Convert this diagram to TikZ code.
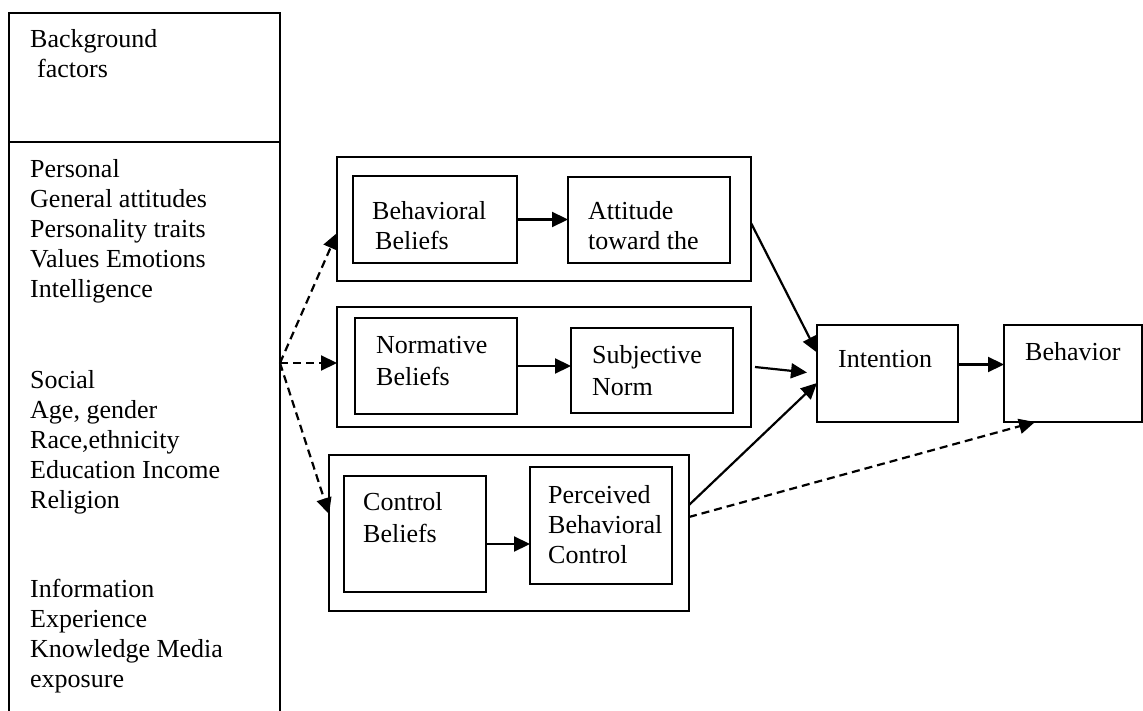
\documentclass[tikz,border=0pt]{standalone}
\usepackage{fontspec}
\setmainfont{Liberation Serif}
\usetikzlibrary{arrows.meta,calc}

\tikzset{
  box/.style={draw, line width=1.8pt, inner sep=0pt, outer sep=0pt},
  txt/.style={anchor=base west, inner sep=0pt, align=left, font=\fontsize{26}{30}\selectfont},
  solidarr/.style={line width=2.2pt, -{Triangle[length=16pt,width=15pt]}},
  dasharr/.style={solidarr, dash pattern=on 8pt off 5pt},
}

\begin{document}
\begin{tikzpicture}[x=1pt, y=-1pt]
\useasboundingbox (0,0) rectangle (1143,711);
% Background factors panel (text nodes sit on the baseline of their last line)
\draw[line width=1.4pt] (9,720) -- (9,13) -- (280,13) -- (280,720);
\draw[line width=1.4pt] (9,142) -- (280,142);
\node[txt] (bgtitle) at (30,78) {Background\\ \hspace{7pt}factors};
\node[txt] (personal) at (30,298) {Personal\\General attitudes\\Personality traits\\Values Emotions\\Intelligence};
\node[txt] (social) at (30,508) {Social\\Age, gender\\Race,ethnicity\\Education Income\\Religion};
\node[txt] (information) at (30,687) {Information\\Experience\\Knowledge Media\\exposure};
\coordinate (src) at (280,363);
% Belief groups
\node[box, minimum width=414pt, minimum height=124pt] (grp1) at (544,219) {};
\node[box, minimum width=164pt, minimum height=87pt] (bb) at (435,219.5) {};
\node[box, minimum width=162pt, minimum height=86pt] (att) at (649,220) {};
\node[txt] (bbtext) at (372,250) {Behavioral\\ \hspace{3pt}Beliefs};
\node[txt] (atttext) at (588,250) {Attitude\\toward the};

\node[box, minimum width=414pt, minimum height=120pt] (grp2) at (544,367) {};
\node[box, minimum width=162pt, minimum height=96pt] (nb) at (436,366) {};
\node[box, minimum width=162pt, minimum height=85pt] (sn) at (652,370.5) {};
\node[txt, font=\fontsize{26}{32}\selectfont] (nbtext) at (376,385) {Normative\\Beliefs};
\node[txt, font=\fontsize{26}{32}\selectfont] (sntext) at (592,395) {Subjective\\Norm};

\node[box, minimum width=360pt, minimum height=156pt] (grp3) at (509,533) {};
\node[box, minimum width=142pt, minimum height=116pt] (cb) at (415,534) {};
\node[box, minimum width=142pt, minimum height=117pt] (pbc) at (601,525.5) {};
\node[txt, font=\fontsize{26}{32}\selectfont] (cbtext) at (363,542) {Control\\Beliefs};
\node[txt] (pbctext) at (548,563) {Perceived\\Behavioral\\Control};
% Intention and behavior
\node[box, minimum width=141pt, minimum height=97pt] (intention) at (887.5,373.5) {};
\node[box, minimum width=138pt, minimum height=97pt] (behavior) at (1073,373.5) {};
\node[txt] (inttext) at (838,367) {Intention};
\node[txt] (behtext) at (1025,360) {Behavior};
% Arrows
\draw[solidarr] (bb.east) -- (bb.east -| att.west);
\draw[solidarr] (nb.east) -- (nb.east -| sn.west);
\draw[solidarr] ([yshift=-10pt]cb.east) -- ([yshift=-10pt]cb.east -| pbc.west);
\draw[solidarr] ([yshift=-4pt]grp1.east) -- ([yshift=21pt]intention.west);
\draw[solidarr] ([xshift=4pt]grp2.east) -- ([xshift=-10pt,yshift=1pt]intention.west);
\draw[solidarr] ([yshift=28pt]grp3.east) -- ([yshift=-9.5pt]intention.west);
\draw[solidarr] ([yshift=9pt]intention.east) -- ([yshift=9pt]intention.east -| behavior.west);
\draw[dasharr] ([yshift=16pt]grp3.east) -- ([xshift=31pt]behavior.south west);
\draw[dasharr] (src) -- ([yshift=-14pt]grp1.west);
\draw[dasharr] (src) -- (src -| grp2.west);
\draw[dasharr] (src) -- ([yshift=19pt]grp3.west);
\end{tikzpicture}
\end{document}
